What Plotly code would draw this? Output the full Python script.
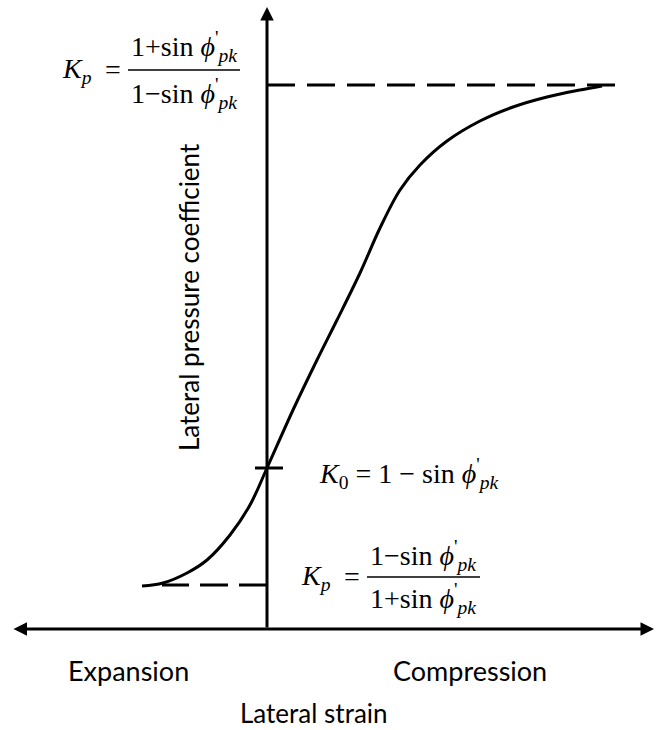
import plotly.graph_objects as go

# ---- data (schematic units: 1 unit = 100 px) ----
strain = [-1.25, -1.04, -0.80, -0.60, -0.37, -0.17, 0.00, 0.26, 0.50, 0.70,
          0.93, 1.13, 1.33, 1.53, 1.80, 2.13, 2.46, 2.80, 3.13, 3.35]
coef = [0.43, 0.46, 0.56, 0.69, 0.94, 1.24, 1.61, 2.19, 2.69, 3.09,
        3.56, 4.01, 4.39, 4.64, 4.88, 5.08, 5.22, 5.32, 5.39, 5.43]
Kp_val = 5.44      # passive limit
Ka_val = 0.44      # active limit
K0_val = 1.61      # at-rest
Kp_line_x = [0.0, 3.53]
Ka_line_x = [0.0, -1.05]
K0_tick_x = [-0.12, 0.16]

x_range = [-2.67, 3.89]
y_range = [-1.01, 6.29]

serif = "Liberation Serif"
sans = "Lato"
phi = "<i>ϕ</i><sup>'</sup><sub><i>pk</i></sub>"

fig = go.Figure()

# curve
fig.add_trace(go.Scatter(x=strain, y=coef, mode="lines",
                         line=dict(color="black", width=3, shape="spline", smoothing=1.0),
                         hoverinfo="skip"))
# dashed limits
fig.add_trace(go.Scatter(x=Kp_line_x, y=[Kp_val, Kp_val], mode="lines",
                         line=dict(color="black", width=3, dash="28px,12px"), hoverinfo="skip"))
fig.add_trace(go.Scatter(x=Ka_line_x, y=[Ka_val, Ka_val], mode="lines",
                         line=dict(color="black", width=3, dash="28px,11px"), hoverinfo="skip"))
# K0 tick
fig.add_trace(go.Scatter(x=K0_tick_x, y=[K0_val, K0_val], mode="lines",
                         line=dict(color="black", width=3), hoverinfo="skip"))

ann = []
# axes arrows
ann.append(dict(x=0, y=6.22, ax=0, ay=0, xref="x", yref="y", axref="x", ayref="y",
                showarrow=True, arrowhead=2, arrowsize=0.9, arrowwidth=3, arrowcolor="black", text=""))
ann.append(dict(x=3.87, y=0, ax=-2.55, ay=0, xref="x", yref="y", axref="x", ayref="y",
                showarrow=True, arrowhead=2, startarrowhead=2, arrowside="end+start",
                arrowsize=0.9, startarrowsize=0.9, arrowwidth=3, arrowcolor="black", text=""))

def txt(x, y, s, size=28, family=serif, xanchor="center", angle=0):
    ann.append(dict(x=x, y=y, xref="x", yref="y", text=s, showarrow=False,
                    xanchor=xanchor, yanchor="middle", textangle=angle,
                    font=dict(family=family, size=size, color="black")))

# top formula
txt(-1.90, 5.59, "<i>K</i><sub><i>p</i></sub>")
txt(-1.54, 5.60, "=")
txt(-0.83, 5.83, "1+sin " + phi)
txt(-0.83, 5.36, "1−sin " + phi)
# bottom formula
txt(0.49, 0.52, "<i>K</i><sub><i>p</i></sub>")
txt(0.85, 0.53, "=")
txt(1.56, 0.74, "1−sin " + phi)
txt(1.56, 0.31, "1+sin " + phi)
# K0 formula
txt(0.50, 1.56, "<i>K</i><sub>0</sub> = 1 − sin " + phi, xanchor="left")

# labels
txt(-1.39, -0.41, "Expansion", size=27, family=sans)
txt(2.03, -0.41, "Compression", size=27, family=sans)
txt(0.47, -0.835, "Lateral strain", size=26, family=sans)
txt(-0.78, 3.32, "Lateral pressure coefficient", size=26, family=sans, angle=-90)

shapes = [
    dict(type="line", xref="x", yref="y", x0=-1.39, x1=-0.27, y0=5.59, y1=5.59,
         line=dict(color="black", width=1.5)),
    dict(type="line", xref="x", yref="y", x0=1.00, x1=2.13, y0=0.52, y1=0.52,
         line=dict(color="black", width=1.5)),
]

fig.update_layout(
    width=656, height=730, margin=dict(l=0, r=0, t=0, b=0),
    paper_bgcolor="white", plot_bgcolor="white", showlegend=False,
    xaxis=dict(range=x_range, visible=False, fixedrange=True),
    yaxis=dict(range=y_range, visible=False, fixedrange=True),
    annotations=ann, shapes=shapes,
)
fig.write_html("out.html")
